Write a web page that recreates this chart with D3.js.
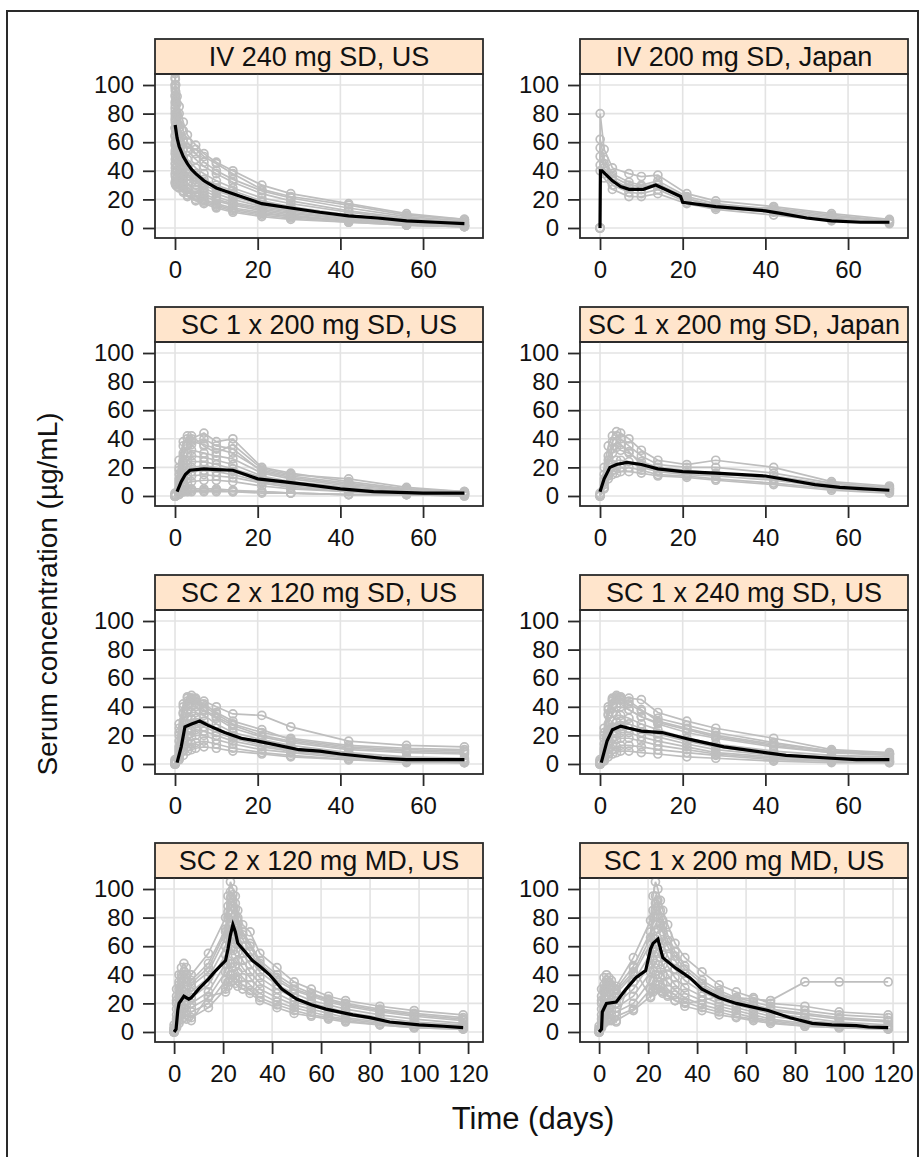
<!DOCTYPE html>
<html>
<head>
<meta charset="utf-8">
<script src="https://cdn.jsdelivr.net/npm/d3@7"></script>
<style>
  body { margin: 0; background: #fff; }
  text { font-family: "Liberation Sans", Arial, sans-serif; fill: #111; }
</style>
</head>
<body>
<div id="chart"></div>
<script>
// panel titles, reading order (left to right, top to bottom)
var titles = [
  "IV 240 mg SD, US", "IV 200 mg SD, Japan",
  "SC 1 x 200 mg SD, US", "SC 1 x 200 mg SD, Japan",
  "SC 2 x 120 mg SD, US", "SC 1 x 240 mg SD, US",
  "SC 2 x 120 mg MD, US", "SC 1 x 200 mg MD, US"
];
var xTicksSD = [0, 20, 40, 60];
var xTicksMD = [0, 20, 40, 60, 80, 100, 120];
var yTicks = [0, 20, 40, 60, 80, 100];

// ---- IV 240 mg SD, US
var iv240Times = [0.04, 0.08, 0.17, 0.5, 1, 2, 3, 5, 7, 10, 14, 21, 28, 42, 56, 70];
var iv240Subjects = [
  [105, 100, 95, 87, 80, 68, 60, 52, 46, 40, 34, 26, 21, 14, 8, 5],
  [98, 93, 88, 78, 70, 60, 54, 48, 43, 38, 32, 24, 19, 12, 7, 4],
  [92, 86, 80, 72, 65, 55, 48, 42, 38, 33, 28, 21, 17, 11, 6, 4],
  [88, 82, 75, 67, 60, 50, 44, 38, 34, 30, 26, 19, 15, 9, 5, 3],
  [84, 78, 72, 63, 56, 47, 41, 36, 32, 28, 24, 18, 14, 9, 5, 3],
  [80, 74, 68, 60, 52, 44, 38, 34, 30, 26, 22, 16, 13, 8, 4, 2],
  [76, 70, 64, 56, 50, 42, 36, 32, 28, 24, 20, 15, 12, 7, 4, 2],
  [70, 65, 60, 52, 46, 38, 34, 30, 26, 22, 18, 14, 11, 6, 3, 2],
  [64, 60, 55, 48, 42, 35, 31, 27, 24, 20, 17, 13, 10, 6, 3, 2],
  [58, 54, 50, 44, 38, 32, 28, 25, 22, 19, 16, 12, 9, 5, 3, 1],
  [52, 48, 45, 40, 35, 30, 27, 23, 20, 17, 14, 11, 8, 5, 2, 1],
  [45, 42, 40, 36, 32, 28, 25, 22, 19, 16, 13, 10, 8, 5, 2, 1],
  [38, 36, 34, 32, 30, 26, 23, 20, 18, 15, 12, 9, 7, 4, 2, 1],
  [100, 96, 90, 80, 72, 62, 56, 55, 50, 45, 38, 27, 22, 16, 9, 6],
  [108, 104, 100, 92, 85, 74, 65, 58, 52, 46, 40, 30, 24, 17, 10, 6],
  [32, 31, 30, 29, 28, 25, 22, 19, 17, 14, 11, 8, 6, 4, 2, 1]
];
var iv240MeanTimes = [0.04, 0.5, 1, 2, 3, 4, 5, 7, 10, 14, 17, 21, 28, 35, 42, 49, 56, 63, 70];
var iv240Mean = [72, 63, 57, 50, 45, 41, 38, 33, 28, 24, 21, 17, 14, 11, 8.5, 7, 5, 4, 3];

// ---- IV 200 mg SD, Japan
var iv200jTimes = [0, 0.04, 1, 3, 7, 10, 14, 21, 28, 42, 56, 70];
var iv200jSubjects = [
  [0, 80, 55, 42, 38, 36, 37, 24, 19, 15, 10, 6],
  [0, 62, 48, 38, 32, 30, 33, 22, 17, 13, 8, 5],
  [0, 50, 42, 34, 28, 27, 30, 20, 16, 12, 7, 4],
  [0, 44, 38, 30, 25, 24, 27, 18, 14, 11, 6, 4],
  [0, 40, 35, 27, 22, 22, 24, 17, 13, 9, 5, 3],
  [0, 56, 45, 36, 30, 29, 31, 21, 15, 14, 9, 5]
];
var iv200jMeanTimes = [0, 0.1, 0.5, 3, 5, 7, 10.5, 13.5, 19.5, 20, 28, 40, 44, 50, 56, 63, 70];
var iv200jMean = [0, 40, 40, 33, 29, 27, 27, 30, 22, 18, 15, 12, 10, 7, 5, 4, 4];

// ---- SC 1 x 200 mg SD, US
var sc200Times = [0, 1, 2, 3, 4, 7, 10, 14, 21, 28, 42, 56, 70];
var sc200Subjects = [
  [1, 20, 35, 42, 40, 44, 38, 40, 20, 16, 10, 5, 3],
  [0, 15, 28, 35, 38, 36, 33, 30, 18, 14, 9, 4, 3],
  [0, 12, 24, 30, 32, 30, 28, 26, 16, 12, 7, 4, 2],
  [0, 10, 20, 25, 28, 27, 25, 22, 14, 10, 6, 3, 2],
  [0, 8, 16, 22, 24, 24, 22, 19, 13, 9, 5, 3, 2],
  [0, 6, 14, 18, 20, 21, 20, 17, 11, 8, 5, 2, 1],
  [0, 5, 12, 15, 17, 18, 17, 15, 10, 7, 4, 2, 1],
  [0, 4, 9, 12, 14, 15, 14, 13, 9, 6, 3, 2, 1],
  [0, 3, 6, 9, 10, 11, 11, 10, 7, 5, 3, 1, 1],
  [0, 2, 4, 5, 5, 5, 5, 4, 3, 2, 1, 1, 1],
  [0, 1, 3, 4, 4, 4, 4, 3, 3, 2, 1, 1, 0],
  [2, 25, 38, 40, 42, 35, 30, 36, 19, 15, 12, 6, 3],
  [0, 18, 30, 36, 36, 40, 35, 33, 17, 13, 8, 5, 2],
  [0, 2, 3, 3, 3, 3, 3, 3, 2, 2, 1, 1, 0]
];
var sc200MeanTimes = [0.5, 1.5, 2.5, 3.6, 7, 10, 14, 17, 20, 26, 32, 40, 48, 60, 70];
var sc200Mean = [3, 10, 15, 18, 19, 18.5, 18, 15, 12, 10, 8, 5, 3, 2, 2];

// ---- SC 1 x 200 mg SD, Japan
var sc200jTimes = [0, 1, 2, 3, 4, 5, 7, 10, 14, 21, 28, 42, 56, 70];
var sc200jSubjects = [
  [1, 20, 35, 42, 45, 44, 40, 32, 25, 22, 25, 20, 10, 7],
  [0, 15, 28, 38, 42, 40, 35, 28, 22, 20, 20, 16, 9, 6],
  [0, 10, 22, 30, 34, 32, 30, 24, 20, 18, 16, 12, 7, 5],
  [0, 8, 18, 22, 25, 25, 24, 20, 17, 15, 14, 11, 6, 4],
  [0, 6, 14, 18, 20, 20, 20, 18, 15, 14, 12, 9, 5, 3],
  [0, 5, 12, 15, 16, 17, 17, 16, 14, 13, 11, 8, 4, 2],
  [2, 12, 25, 33, 38, 36, 31, 22, 18, 16, 15, 14, 8, 5]
];
var sc200jMeanTimes = [0, 1, 2.4, 4, 6.5, 10, 14, 20, 28, 40, 46, 52, 58, 64, 70];
var sc200jMean = [3, 12, 20, 22, 23.5, 22, 19, 17, 16, 14, 11, 8, 6, 5, 4];

// ---- SC 2 x 120 mg SD, US
var sc2x120Times = [0, 1, 2, 3, 4, 5, 7, 10, 14, 21, 28, 42, 56, 70];
var sc2x120Subjects = [
  [2, 25, 40, 46, 48, 46, 44, 40, 35, 34, 26, 16, 13, 12],
  [1, 20, 35, 42, 45, 44, 40, 35, 28, 22, 18, 13, 11, 10],
  [0, 16, 30, 38, 40, 40, 37, 32, 25, 19, 15, 10, 8, 7],
  [0, 12, 25, 33, 36, 36, 34, 28, 22, 17, 13, 8, 5, 4],
  [0, 10, 22, 28, 31, 32, 30, 25, 20, 15, 11, 7, 4, 3],
  [0, 8, 18, 24, 27, 28, 26, 22, 18, 13, 10, 6, 3, 2],
  [0, 6, 15, 20, 23, 24, 23, 20, 16, 12, 9, 5, 3, 2],
  [0, 5, 12, 16, 19, 20, 20, 17, 14, 10, 8, 4, 2, 1],
  [0, 4, 9, 12, 14, 15, 16, 14, 11, 8, 6, 3, 2, 1],
  [0, 3, 6, 9, 10, 11, 12, 11, 9, 7, 5, 3, 1, 1],
  [3, 28, 42, 47, 46, 43, 38, 33, 27, 20, 16, 11, 9, 8],
  [1, 22, 36, 44, 46, 45, 42, 36, 30, 24, 17, 12, 10, 9]
];
var sc2x120MeanTimes = [0.5, 1.5, 2.4, 4, 6, 8, 12, 16, 20, 25, 30, 35, 40, 50, 56, 63, 70];
var sc2x120Mean = [1, 12, 26, 28, 30, 27, 22, 18, 16, 13, 10, 9, 7, 4, 3, 3, 3];

// ---- SC 1 x 240 mg SD, US
var sc240Times = [0, 1, 2, 3, 4, 5, 7, 10, 14, 21, 28, 42, 56, 70];
var sc240Subjects = [
  [2, 22, 38, 45, 48, 47, 46, 45, 36, 30, 25, 18, 10, 8],
  [1, 18, 34, 42, 47, 45, 42, 37, 32, 27, 22, 15, 9, 7],
  [0, 14, 28, 36, 40, 40, 38, 33, 28, 22, 18, 12, 8, 6],
  [0, 11, 24, 30, 34, 34, 32, 28, 24, 18, 14, 9, 6, 5],
  [0, 9, 20, 26, 29, 30, 28, 25, 21, 16, 12, 7, 5, 4],
  [0, 7, 16, 22, 25, 26, 25, 22, 19, 14, 10, 6, 4, 3],
  [0, 5, 13, 18, 21, 22, 22, 19, 16, 12, 8, 5, 3, 2],
  [0, 4, 10, 14, 17, 18, 18, 16, 13, 10, 7, 4, 2, 2],
  [0, 3, 7, 10, 12, 13, 13, 12, 10, 8, 6, 3, 2, 1],
  [0, 2, 5, 7, 8, 9, 9, 8, 7, 5, 4, 2, 1, 1],
  [3, 25, 40, 46, 45, 42, 38, 33, 29, 24, 19, 13, 8, 7],
  [1, 20, 35, 44, 46, 46, 44, 38, 30, 25, 20, 14, 9, 7]
];
var sc240MeanTimes = [0.3, 1.7, 3, 5, 7, 10, 15, 22, 30, 40, 45, 56, 62, 70];
var sc240Mean = [1, 16, 24, 26.5, 25, 23, 22, 17, 12, 8, 6, 4, 3, 3];

// ---- SC 2 x 120 mg MD, US
var md2x120Times = [0, 1, 2, 3, 4, 5, 7, 14, 21, 22, 23, 24, 25, 26, 28, 31, 35, 42, 49, 56, 63, 70, 84, 98, 118];
var md2x120Subjects = [
  [5, 30, 40, 45, 48, 45, 40, 55, 80, 95, 105, 100, 95, 85, 75, 70, 55, 45, 35, 30, 25, 22, 18, 15, 12],
  [3, 25, 35, 40, 42, 40, 36, 48, 72, 88, 98, 96, 90, 80, 70, 62, 50, 40, 32, 27, 23, 20, 16, 13, 10],
  [2, 20, 30, 35, 37, 35, 32, 42, 66, 80, 90, 88, 82, 74, 65, 56, 46, 36, 29, 25, 21, 18, 14, 11, 8],
  [1, 16, 25, 30, 32, 30, 28, 38, 60, 72, 82, 80, 75, 68, 60, 52, 42, 33, 27, 22, 19, 16, 12, 9, 6],
  [0, 12, 20, 26, 28, 26, 24, 33, 54, 65, 74, 72, 68, 62, 55, 47, 38, 30, 24, 20, 17, 14, 10, 7, 5],
  [0, 9, 16, 22, 24, 22, 20, 28, 48, 58, 66, 65, 62, 56, 50, 42, 34, 27, 21, 18, 15, 12, 8, 6, 4],
  [0, 7, 13, 18, 20, 19, 17, 24, 42, 50, 58, 57, 54, 50, 45, 38, 30, 24, 19, 16, 13, 10, 7, 5, 3],
  [0, 5, 10, 14, 16, 15, 14, 20, 36, 42, 48, 48, 46, 42, 38, 33, 27, 21, 17, 14, 11, 9, 6, 4, 3],
  [0, 4, 8, 12, 13, 12, 10, 17, 30, 35, 40, 40, 38, 36, 33, 29, 24, 19, 15, 12, 10, 8, 5, 3, 2],
  [0, 3, 6, 9, 10, 9, 8, 25, 28, 32, 35, 36, 34, 32, 30, 27, 22, 17, 13, 11, 9, 7, 5, 3, 2],
  [2, 22, 33, 38, 40, 38, 34, 45, 70, 84, 94, 92, 86, 78, 68, 60, 48, 38, 30, 26, 22, 19, 15, 12, 9]
];
var md2x120MeanTimes = [0, 0.8, 1.5, 2, 4, 6, 7, 10, 14, 17, 21, 22, 23, 24, 25, 26, 28, 32, 35, 39, 44, 50, 56, 62, 73, 80, 88, 100, 110, 118];
var md2x120Mean = [0, 2, 15, 20, 25, 23, 24, 30, 37, 43, 50, 58, 68, 75, 70, 62, 58, 50, 46, 40, 30, 23, 19, 16, 12, 10, 7, 5, 4, 3];

// ---- SC 1 x 200 mg MD, US
var md200Times = [0, 1, 2, 3, 4, 5, 7, 14, 21, 22, 23, 24, 25, 26, 28, 31, 35, 42, 49, 56, 63, 70, 84, 98, 118];
var md200Subjects = [
  [4, 30, 38, 40, 38, 36, 32, 52, 78, 95, 105, 100, 92, 85, 75, 62, 52, 42, 33, 28, 24, 20, 18, 14, 12],
  [2, 25, 33, 36, 35, 33, 30, 46, 70, 85, 95, 92, 85, 78, 68, 56, 46, 36, 29, 24, 21, 18, 15, 12, 10],
  [1, 20, 28, 32, 32, 30, 27, 40, 62, 76, 85, 82, 76, 70, 60, 50, 41, 32, 26, 22, 18, 15, 12, 9, 7],
  [0, 16, 23, 28, 28, 26, 24, 35, 55, 66, 75, 72, 68, 62, 53, 44, 36, 28, 23, 19, 16, 13, 10, 7, 5],
  [0, 12, 19, 23, 24, 22, 20, 30, 48, 58, 65, 63, 59, 54, 46, 38, 31, 25, 20, 17, 14, 11, 8, 6, 4],
  [0, 9, 15, 19, 20, 19, 17, 25, 42, 50, 56, 55, 52, 47, 40, 33, 27, 22, 18, 15, 12, 9, 6, 5, 3],
  [0, 7, 12, 15, 16, 15, 14, 20, 36, 43, 48, 47, 44, 40, 35, 29, 24, 19, 16, 13, 10, 8, 5, 4, 3],
  [0, 5, 9, 12, 13, 12, 11, 16, 30, 36, 40, 40, 38, 34, 30, 26, 21, 17, 14, 11, 9, 7, 4, 3, 2],
  [0, 4, 7, 9, 10, 9, 8, 15, 25, 30, 33, 33, 31, 28, 26, 22, 18, 15, 12, 10, 8, 6, 4, 3, 2],
  [0, 3, 6, 8, 8, 8, 7, 45, 24, 28, 30, 30, 29, 27, 25, 22, 20, 22, 25, 24, 23, 22, 35, 35, 35],
  [2, 22, 30, 34, 34, 32, 29, 42, 66, 80, 90, 88, 80, 74, 64, 53, 44, 34, 27, 23, 19, 16, 13, 10, 8]
];
var md200MeanTimes = [0, 1, 1.3, 3, 7, 11, 15, 19, 21, 22, 24, 26, 31, 37, 42, 49, 56, 69, 78, 87, 95, 105, 110, 118];
var md200Mean = [0, 2, 14, 20, 21, 30, 38, 43, 58, 62, 65, 52, 45, 38, 30, 24, 20, 15, 10, 6, 5, 4.5, 3.5, 3];

var panels = [
  { times: iv240Times, subjects: iv240Subjects, meanT: iv240MeanTimes, mean: iv240Mean, md: false },
  { times: iv200jTimes, subjects: iv200jSubjects, meanT: iv200jMeanTimes, mean: iv200jMean, md: false },
  { times: sc200Times, subjects: sc200Subjects, meanT: sc200MeanTimes, mean: sc200Mean, md: false },
  { times: sc200jTimes, subjects: sc200jSubjects, meanT: sc200jMeanTimes, mean: sc200jMean, md: false },
  { times: sc2x120Times, subjects: sc2x120Subjects, meanT: sc2x120MeanTimes, mean: sc2x120Mean, md: false },
  { times: sc240Times, subjects: sc240Subjects, meanT: sc240MeanTimes, mean: sc240Mean, md: false },
  { times: md2x120Times, subjects: md2x120Subjects, meanT: md2x120MeanTimes, mean: md2x120Mean, md: true },
  { times: md200Times, subjects: md200Subjects, meanT: md200MeanTimes, mean: md200Mean, md: true }
];
panels.forEach(function(p, i) { p.title = titles[i]; });

// layout
var W = 924, H = 1157;
var colLeft = [155, 580];
var rowTop = [39, 307, 575, 843];
var panelW = 328, stripH = 35, plotH = 164;
var gray = "#bebebe";

var svg = d3.select("#chart").append("svg")
  .attr("width", W)
  .attr("height", H);

svg.append("rect").attr("width", W).attr("height", H).attr("fill", "#fff");

// outer frame (left, top and right edges)
svg.append("path")
  .attr("d", "M7," + H + "V11H918V" + H)
  .attr("fill", "none")
  .attr("stroke", "#2a2a2a")
  .attr("stroke-width", 2);

panels.forEach(function(p, i) {
  var col = i % 2, row = Math.floor(i / 2);
  var g = svg.append("g").attr("transform", "translate(" + colLeft[col] + "," + rowTop[row] + ")");
  var xTicks = p.md ? xTicksMD : xTicksSD;

  var x = d3.scaleLinear()
    .domain(p.md ? [-7.8, 126.1] : [-4.84, 74.5])
    .range([0, panelW]);
  var y = d3.scaleLinear()
    .domain([-7, 107.7])
    .range([plotH, 0]);

  // strip
  g.append("rect")
    .attr("width", panelW).attr("height", stripH)
    .attr("fill", "#ffe5cc")
    .attr("stroke", "#2a2a2a").attr("stroke-width", 1.8);
  g.append("text")
    .attr("x", panelW / 2).attr("y", stripH / 2)
    .attr("dy", "0.36em")
    .attr("text-anchor", "middle")
    .attr("font-size", 27)
    .text(p.title);

  var plot = g.append("g").attr("transform", "translate(0," + stripH + ")");
  var clipId = "clip" + i;
  plot.append("clipPath").attr("id", clipId)
    .append("rect").attr("width", panelW).attr("height", plotH);

  // grid
  plot.selectAll(".vgrid").data(xTicks).join("line")
    .attr("x1", d => x(d)).attr("x2", d => x(d))
    .attr("y1", 0).attr("y2", plotH)
    .attr("stroke", "#e3e3e3").attr("stroke-width", 1.6);
  plot.selectAll(".hgrid").data(yTicks).join("line")
    .attr("y1", d => y(d)).attr("y2", d => y(d))
    .attr("x1", 0).attr("x2", panelW)
    .attr("stroke", "#e3e3e3").attr("stroke-width", 1.6);

  var data = plot.append("g").attr("clip-path", "url(#" + clipId + ")");

  // individual subjects
  var line = d3.line().x(d => x(d[0])).y(d => y(d[1]));
  p.subjects.forEach(function(s) {
    var pts = p.times.map(function(t, k) { return [t, s[k]]; })
      .filter(function(d) { return d[1] != null; });
    data.append("path")
      .attr("d", line(pts))
      .attr("fill", "none")
      .attr("stroke", gray)
      .attr("stroke-width", 1.7);
    data.selectAll(null).data(pts).join("circle")
      .attr("cx", d => x(d[0])).attr("cy", d => y(d[1]))
      .attr("r", 4)
      .attr("fill", "none")
      .attr("stroke", gray)
      .attr("stroke-width", 1.7);
  });

  // mean profile
  var meanPts = p.meanT.map(function(t, k) { return [t, p.mean[k]]; });
  data.append("path")
    .attr("d", line(meanPts))
    .attr("fill", "none")
    .attr("stroke", "#000")
    .attr("stroke-width", 3.2);

  // panel border
  plot.append("rect")
    .attr("width", panelW).attr("height", plotH)
    .attr("fill", "none")
    .attr("stroke", "#2a2a2a").attr("stroke-width", 1.8);

  // axes
  var xa = plot.append("g").attr("transform", "translate(0," + plotH + ")")
    .call(d3.axisBottom(x).tickValues(xTicks).tickSize(12).tickPadding(11).tickSizeOuter(0));
  var ya = plot.append("g")
    .call(d3.axisLeft(y).tickValues(yTicks).tickSize(12).tickPadding(9).tickSizeOuter(0));
  [xa, ya].forEach(function(a) {
    a.select(".domain").remove();
    a.attr("font-family", null).attr("font-size", null);
    a.selectAll("line").attr("stroke", "#2a2a2a").attr("stroke-width", 1.8);
    a.selectAll("text").attr("font-size", 24).attr("fill", "#111");
  });
});

// axis titles
svg.append("text")
  .attr("x", 533).attr("y", 1118)
  .attr("dy", "0.35em")
  .attr("text-anchor", "middle")
  .attr("font-size", 31)
  .text("Time (days)");

svg.append("text")
  .attr("transform", "translate(47,594) rotate(-90)")
  .attr("dy", "0.35em")
  .attr("text-anchor", "middle")
  .attr("font-size", 28)
  .text("Serum concentration (µg/mL)");
</script>
</body>
</html>
